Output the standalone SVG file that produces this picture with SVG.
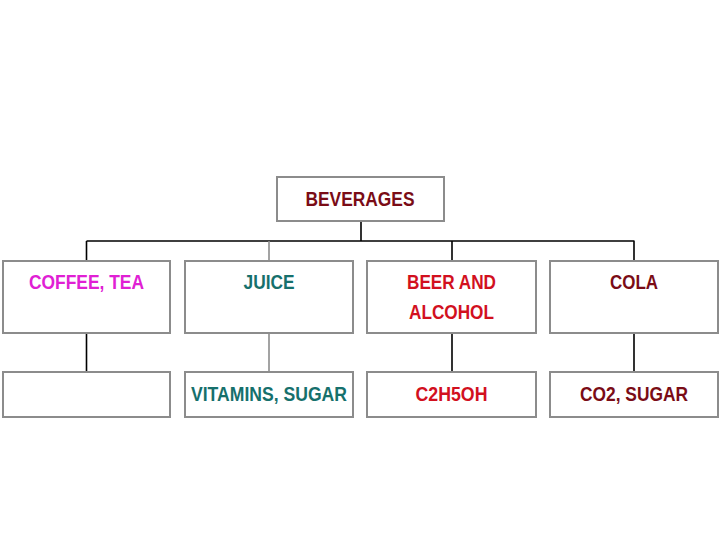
<svg xmlns="http://www.w3.org/2000/svg" width="720" height="540" viewBox="0 0 720 540">
<style>
.box{fill:#fff;stroke:#8c8c8c;stroke-width:2}
.t{font-family:"Liberation Sans",Arial,sans-serif;font-weight:bold;font-size:21px;text-anchor:middle}
.dred{fill:#7a0c16}
.mag{fill:#e020d4}
.teal{fill:#16706c}
.red{fill:#d2101e}
.k{stroke:#000;stroke-width:1.6;fill:none}
.g{stroke:#8c8c8c;stroke-width:1.6;fill:none}
</style>
<rect width="720" height="540" fill="#fff"/>
<g id="connectors">
<path class="k" d="M361 222V241M86.5 241H634.5M86.5 241V261M452 241V261M634 241V261"/>
<path class="g" d="M269 241V261"/>
<path class="k" d="M86.5 333V372M452 333V372M634 333V372"/>
<path class="g" d="M269 333V372"/>
</g>
<g id="beverages"><rect class="box" x="277" y="177" width="167" height="44"/><text class="t dred" x="360" y="206" textLength="109" lengthAdjust="spacingAndGlyphs">BEVERAGES</text></g>
<g id="coffee"><rect class="box" x="3" y="261" width="167" height="72"/><text class="t mag" x="86.5" y="289" textLength="115" lengthAdjust="spacingAndGlyphs">COFFEE, TEA</text></g>
<g id="juice"><rect class="box" x="185" y="261" width="168" height="72"/><text class="t teal" x="269" y="289" textLength="51" lengthAdjust="spacingAndGlyphs">JUICE</text></g>
<g id="beer"><rect class="box" x="367" y="261" width="169" height="72"/><text class="t red" x="451.5" y="289" textLength="89" lengthAdjust="spacingAndGlyphs">BEER AND</text><text class="t red" x="451.5" y="319" textLength="85" lengthAdjust="spacingAndGlyphs">ALCOHOL</text></g>
<g id="cola"><rect class="box" x="550" y="261" width="168" height="72"/><text class="t dred" x="634" y="289" textLength="48" lengthAdjust="spacingAndGlyphs">COLA</text></g>
<g id="coffee-sub"><rect class="box" x="3" y="372" width="167" height="45"/></g>
<g id="juice-sub"><rect class="box" x="185" y="372" width="168" height="45"/><text class="t teal" x="269" y="401" textLength="156" lengthAdjust="spacingAndGlyphs">VITAMINS, SUGAR</text></g>
<g id="beer-sub"><rect class="box" x="367" y="372" width="169" height="45"/><text class="t red" x="451.5" y="401" textLength="72" lengthAdjust="spacingAndGlyphs">C2H5OH</text></g>
<g id="cola-sub"><rect class="box" x="550" y="372" width="168" height="45"/><text class="t dred" x="634" y="401" textLength="108" lengthAdjust="spacingAndGlyphs">CO2, SUGAR</text></g>
</svg>
